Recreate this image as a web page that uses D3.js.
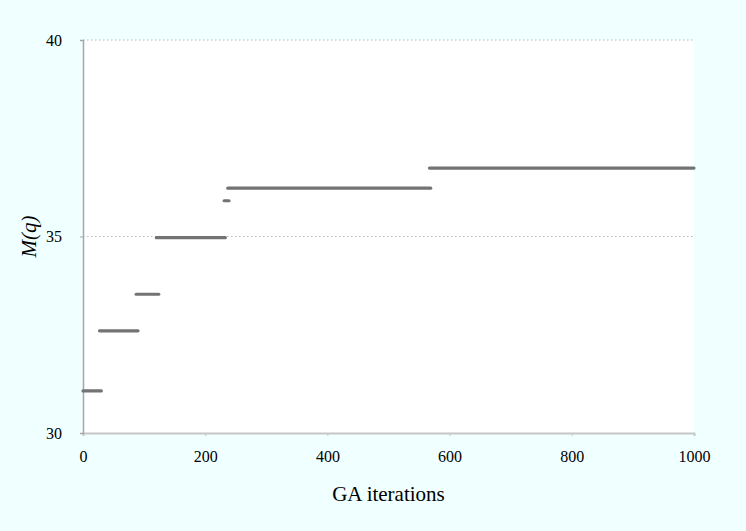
<!DOCTYPE html>
<html>
<head>
<meta charset="utf-8">
<script src="https://cdn.jsdelivr.net/npm/d3@7/dist/d3.min.js"></script>
<style>
  html, body { margin: 0; padding: 0; background: #F0FFFF; }
  svg { display: block; }
  text { font-family: "Liberation Serif", "Times New Roman", serif; fill: #000; }
</style>
</head>
<body>
<svg id="chart" width="746" height="531"></svg>
<script>
// Best fitness M(q) found by the GA: each plateau is [first iteration, last iteration, value]
const plateauStart = [0, 27, 87, 120, 231, 237, 567];
const plateauEnd   = [30, 90, 124, 233, 239, 569, 1000];
const plateauValue = [31.07, 32.60, 33.53, 34.97, 35.91, 36.23, 36.74];

const xTicks = [0, 200, 400, 600, 800, 1000];
const yTicks = [30, 35, 40];
const xTitle = "GA iterations";
const yTitle = "M(q)";

const svg = d3.select("#chart");
const margin = { left: 83, right: 52, top: 40, bottom: 98 };
const W = 746, H = 531;

const x = d3.scaleLinear().domain([0, 1000]).range([margin.left, W - margin.right]);
const y = d3.scaleLinear().domain([30, 40]).range([H - margin.bottom, margin.top]);

// plot area
svg.append("rect")
  .attr("x", x(0)).attr("y", y(40))
  .attr("width", x(1000) - x(0)).attr("height", y(30) - y(40))
  .attr("fill", "#fff");

// dotted gridlines
svg.append("g").selectAll("line")
  .data(yTicks.filter(d => d > 30))
  .join("line")
  .attr("x1", x(0)).attr("x2", x(1000))
  .attr("y1", d => y(d)).attr("y2", d => y(d))
  .attr("stroke", "#b8b8b8").attr("stroke-width", 1)
  .attr("stroke-dasharray", "1.5,2.5");

// x axis
const xAxis = svg.append("g")
  .attr("transform", `translate(0,${y(30)})`)
  .call(d3.axisBottom(x).tickValues(xTicks).tickFormat(d3.format("d")).tickSize(3).tickPadding(15));
xAxis.select(".domain").attr("stroke", "#c6c6c6").attr("stroke-width", 2);
xAxis.selectAll(".tick line").attr("stroke", "#c6c6c6");
xAxis.selectAll(".tick text").attr("font-size", 16).attr("font-family", "Liberation Serif").attr("fill", "#000");

// y axis
const yAxis = svg.append("g")
  .attr("transform", `translate(${x(0)},0)`)
  .call(d3.axisLeft(y).tickValues(yTicks).tickFormat(d3.format("d")).tickSize(3).tickPadding(18));
yAxis.select(".domain").attr("stroke", "#a6a6a6").attr("stroke-width", 1.5);
yAxis.selectAll(".tick line").attr("stroke", "#a6a6a6");
yAxis.selectAll(".tick text").attr("font-size", 16).attr("font-family", "Liberation Serif").attr("fill", "#000");

// plateaus of the best-so-far fitness
const plateaus = plateauStart.map((s, i) => ({ s, e: plateauEnd[i], v: plateauValue[i] }));
svg.append("g").selectAll("line")
  .data(plateaus)
  .join("line")
  .attr("x1", d => x(d.s)).attr("x2", d => x(d.e))
  .attr("y1", d => y(d.v)).attr("y2", d => y(d.v))
  .attr("stroke", "#737373").attr("stroke-width", 3.2)
  .attr("stroke-linecap", "round");

// axis titles
svg.append("text")
  .attr("x", (x(0) + x(1000)) / 2).attr("y", 501)
  .attr("text-anchor", "middle").attr("font-size", 21)
  .text(xTitle);

svg.append("text")
  .attr("transform", `translate(36,${y(35)}) rotate(-90)`)
  .attr("text-anchor", "middle").attr("font-size", 21).attr("font-style", "italic")
  .text(yTitle);
</script>
</body>
</html>
